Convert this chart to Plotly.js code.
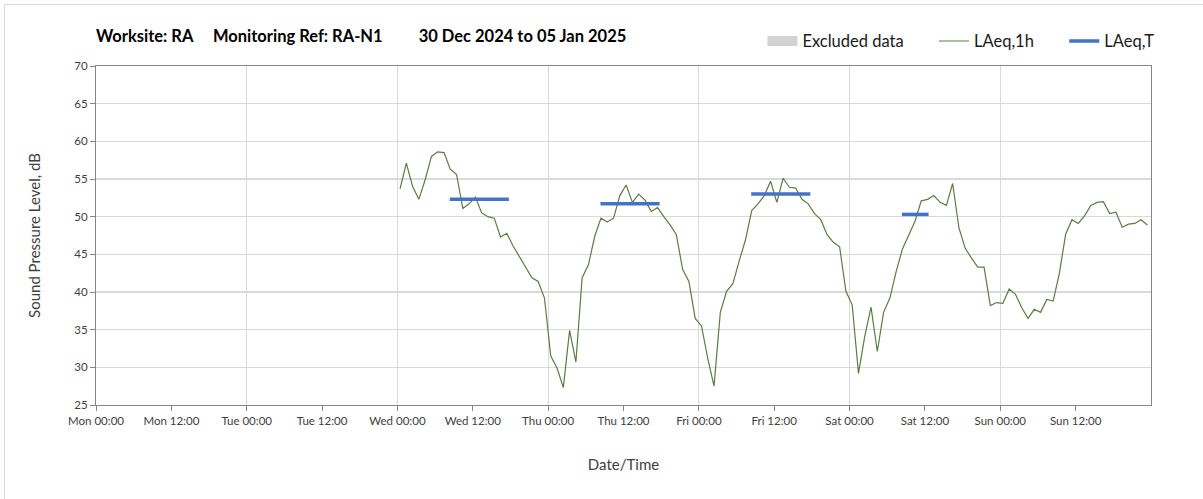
<!DOCTYPE html>
<html>
<head>
<meta charset="utf-8">
<script src="https://cdn.plot.ly/plotly-3.0.1.min.js"></script>
<style>
  html, body { margin: 0; padding: 0; background: #fff; }
  #wrap { position: relative; width: 1203px; height: 499px; }
  #chart { position: absolute; left: 0; top: 0; width: 1203px; height: 499px; }
  #frame { position: absolute; left: 4px; top: 4px; width: 1210px; height: 510px;
           border-left: 1px solid #d9d9d9; border-top: 1px solid #d9d9d9; pointer-events: none; }
</style>
</head>
<body>
<div id="wrap"><div id="chart"></div><div id="frame"></div></div>
<script>
// Hourly LAeq,1h values from Wed 01 Jan 2025 00:25, one per hour (120 values)
const hourlyStart = '2025-01-01 00:25';
const hourMs = 3600000;
const laeq1h = [
  53.7, 57.1, 54.0, 52.3, 54.9, 58.0, 58.6, 58.5, 56.3, 55.6, 51.1, 51.7,
  52.6, 50.5, 50.0, 49.8, 47.3, 47.8, 46.1, 44.7, 43.2, 41.9, 41.4, 39.2,
  31.5, 29.9, 27.3, 34.9, 30.7, 41.9, 43.6, 47.4, 49.8, 49.3, 49.8, 52.8,
  54.2, 51.9, 53.0, 52.2, 50.7, 51.2, 50.0, 48.9, 47.6, 43.0, 41.4, 36.5,
  35.5, 31.2, 27.5, 37.3, 40.1, 41.1, 44.1, 46.9, 50.8, 51.7, 52.8, 54.7,
  51.9, 55.1, 53.9, 53.8, 52.3, 51.7, 50.4, 49.6, 47.6, 46.6, 46.0, 40.1,
  38.3, 29.2, 34.1, 38.0, 32.1, 37.3, 39.2, 42.7, 45.7, 47.5, 49.4, 52.1,
  52.3, 52.8, 51.9, 51.5, 54.4, 48.5, 45.8, 44.5, 43.3, 43.3, 38.2, 38.6,
  38.5, 40.4, 39.7, 37.9, 36.5, 37.7, 37.3, 39.0, 38.8, 42.5, 47.7, 49.6,
  49.1, 50.1, 51.5, 51.9, 52.0, 50.4, 50.6, 48.6, 49.0, 49.1, 49.6, 48.9
];

// LAeq,T periods
const periodStart = ['2025-01-01 08:20', '2025-01-02 08:20', '2025-01-03 08:20', '2025-01-04 08:20'];
const periodEnd   = ['2025-01-01 17:45', '2025-01-02 17:45', '2025-01-03 17:45', '2025-01-04 12:35'];
const periodLevel = [52.3, 51.7, 53.0, 50.3];

// Axis settings
const xRange = ['2024-12-30 00:00', '2025-01-06 00:00'];
const xTickVals = [
  '2024-12-30 00:00', '2024-12-30 12:00', '2024-12-31 00:00', '2024-12-31 12:00',
  '2025-01-01 00:00', '2025-01-01 12:00', '2025-01-02 00:00', '2025-01-02 12:00',
  '2025-01-03 00:00', '2025-01-03 12:00', '2025-01-04 00:00', '2025-01-04 12:00',
  '2025-01-05 00:00', '2025-01-05 12:00'
];
const yRange = [25, 70];
const yTicks = [25, 30, 35, 40, 45, 50, 55, 60, 65, 70];

const tx = [], ty = [];
periodStart.forEach((s, i) => {
  tx.push(s, periodEnd[i], null);
  ty.push(periodLevel[i], periodLevel[i], null);
});

const font = 'Lato, "Open Sans", sans-serif';
const sp = n => '\u00a0'.repeat(n);

const traces = [
  {
    name: 'Excluded data' + sp(6), type: 'scatter', mode: 'lines',
    x: [null], y: [null], xaxis: 'x2', yaxis: 'y',
    line: { width: 11, color: '#d3d3d3' },
    hoverinfo: 'skip'
  },
  {
    name: 'LAeq,1h' + sp(6), type: 'scatter', mode: 'lines',
    x0: hourlyStart, dx: hourMs, y: laeq1h,
    line: { color: '#5a7d44', width: 1.2 }
  },
  {
    name: 'LAeq,T', type: 'scatter', mode: 'lines',
    x: tx, y: ty, connectgaps: false,
    line: { color: '#4472c4', width: 3.5 }
  }
];

const layout = {
  width: 1203, height: 499,
  margin: { l: 96, r: 52, t: 66, b: 94 },
  paper_bgcolor: '#ffffff', plot_bgcolor: '#ffffff',
  font: { family: font, color: '#404040' },
  showlegend: true,
  title: {
    text: '<b>Worksite: RA' + sp(5) + 'Monitoring Ref: RA-N1' + sp(9) + '30 Dec 2024 to 05 Jan 2025</b>',
    font: { family: font, size: 16.5, color: '#000000' },
    x: 0, xref: 'paper', xanchor: 'left',
    y: 1 - 36 / 499, yref: 'container', yanchor: 'middle'
  },
  legend: {
    orientation: 'h', x: 1.008, xanchor: 'right', y: 1.073, yanchor: 'middle',
    font: { family: font, size: 16.5, color: '#1a1a1a' },
    bgcolor: 'rgba(0,0,0,0)', traceorder: 'normal'
  },
  xaxis: {
    type: 'date', range: xRange, tickmode: 'array', tickvals: xTickVals,
    tickformat: '%a %H:%M',
    ticks: 'outside', ticklen: 5, tickcolor: '#868686', tickwidth: 1,
    showline: true, linecolor: '#868686', linewidth: 1, mirror: true,
    showgrid: false, zeroline: false,
    tickfont: { family: font, size: 11.5, color: '#404040' },
    title: { text: 'Date/Time', font: { family: font, size: 15, color: '#404040' }, standoff: 33 }
  },
  xaxis2: {
    type: 'date', range: xRange, tick0: '2024-12-30 00:00', dtick: 86400000,
    overlaying: 'x', anchor: 'y',
    showgrid: true, gridcolor: '#d9d9d9', gridwidth: 1,
    showticklabels: false, ticks: '', showline: false, zeroline: false
  },
  yaxis: {
    range: yRange, tickmode: 'array', tickvals: yTicks,
    ticks: 'outside', ticklen: 5, tickcolor: '#868686',
    showline: true, linecolor: '#868686', linewidth: 1, mirror: true,
    showgrid: true, gridcolor: '#d9d9d9', gridwidth: 1.5, zeroline: false,
    tickfont: { family: font, size: 11.5, color: '#404040' },
    title: { text: 'Sound Pressure Level, dB', font: { family: font, size: 15, color: '#404040' }, standoff: 30 }
  }
};

Plotly.newPlot('chart', traces, layout, { displayModeBar: false, staticPlot: true });
</script>
</body>
</html>
